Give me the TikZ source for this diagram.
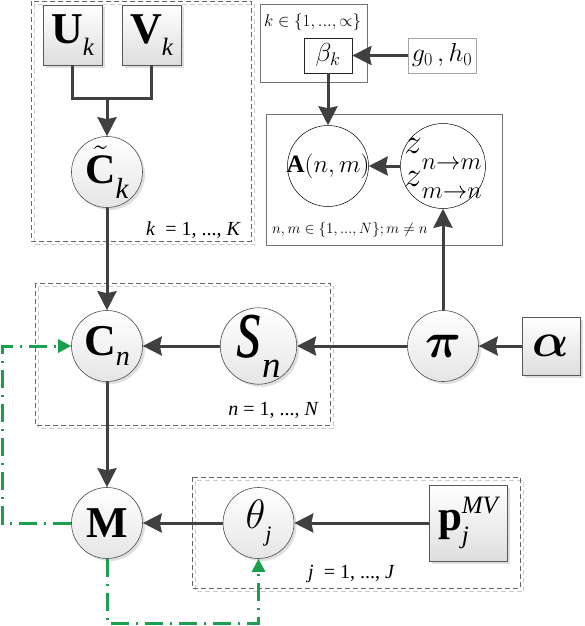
\RequirePackage{fix-cm}
\documentclass[tikz,border=0pt]{standalone}
\usepackage{amsmath,bm}
\usepackage{graphicx}
\usepackage{fontspec}
\setmainfont{Liberation Serif}
\usetikzlibrary{arrows.meta,shadows}
\definecolor{arrowgray}{RGB}{64,64,64}
\definecolor{gline}{RGB}{26,160,76}
\newcommand\myfs[1]{\fontsize{#1}{#1}\selectfont}
\newcommand\lowsub[3]{\raisebox{#1}{\myfs{#2}\itshape #3}}
\begin{document}
\begin{tikzpicture}[x=1pt,y=-1pt,
  arr/.style={draw=arrowgray,line width=3pt,-{Stealth[length=19pt,width=19pt,inset=2pt]}},
  ln/.style={draw=arrowgray,line width=3pt},
  gl/.style={draw=gline,line width=3pt,dash pattern=on 18pt off 7pt on 2pt off 7pt,-{Triangle[length=13pt,width=13pt]}},
  ball/.style={circle,draw=black!70,line width=0.6pt,inner sep=0pt,minimum size=71pt,top color=white,bottom color=black!10,
    drop shadow={shadow xshift=2.5pt,shadow yshift=-2.5pt,opacity=0.25,fill=black!50}},
  obs/.style={rectangle,draw=black!65,line width=0.8pt,inner sep=0pt,top color=white,bottom color=black!13,
    drop shadow={shadow xshift=2.5pt,shadow yshift=-2.5pt,opacity=0.25,fill=black!50}},
  plain/.style={circle,draw=black,line width=0.5pt,fill=white,inner sep=0pt},
  hyper/.style={rectangle,line width=0.8pt,fill=white,inner sep=0pt},
  dplate/.style={draw=black!60,line width=0.8pt,dash pattern=on 5pt off 3pt},
  dshadow/.style={draw=black!20,line width=0.8pt,dash pattern=on 5pt off 3pt},
  splate/.style={draw=black!55,line width=0.8pt},
  lab/.style={inner sep=0pt,font=\myfs{20}},
  mlab/.style={inner sep=0pt}
]
\useasboundingbox (0,0) rectangle (585,626);
\fill[white] (0,0) rectangle (585,626);

% plates
\draw[dshadow] (34.5,4.5) rectangle (254.5,244.5);
\draw[dplate] (31,1) rectangle (251,241);
\draw[splate] (260,4) rectangle (367,82);
\draw[splate] (266,114) rectangle (502,245);
\draw[dshadow] (38.5,286.5) rectangle (333.5,428.5);
\draw[dplate] (35,283) rectangle (330,425);
\draw[dshadow] (195.5,480.5) rectangle (523.5,591.5);
\draw[dplate] (192,477) rectangle (520,588);

% plate labels
\node[lab,anchor=base east] (labK) at (241,235) {\textit{k}\ \ = 1, ..., \textit{K}};
\node[lab,anchor=base east] (labN) at (319,415) {\textit{n}\ = 1, ..., \textit{N}};
\node[lab,anchor=base west] (labJ) at (308,578) {\textit{j}\ \ = 1, ..., \textit{J}};
\node[mlab,anchor=base west,font=\myfs{17}] (labB) at (264,27) {$k\in\{1,...,\propto\}$};
\node[mlab,anchor=base west,font=\myfs{15}] (labA) at (272,233) {$n,m\in\{1,...,N\};m\neq n$};

% nodes
\node[obs,minimum width=59pt,minimum height=60pt] (U) at (72.5,35) {{\myfs{44}\bfseries U}\lowsub{-12pt}{25}{k}};
\node[obs,minimum width=59pt,minimum height=60pt] (V) at (151.5,35) {{\myfs{44}\bfseries V}\lowsub{-12pt}{25}{k}};
\node[ball] (Ck) at (107,172) {{\myfs{42}$\tilde{\text{\bfseries C}}$}\lowsub{-15pt}{29}{k}};
\node[ball] (Cn) at (107,346) {{\myfs{44}\bfseries C}\lowsub{-10pt}{28}{n}};
\node[ball] (sn) at (258.5,346) {\scalebox{1.1}[1.5]{\myfs{60}\itshape s}\lowsub{-20pt}{37}{n}};
\node[ball] (PI) at (443,346) {{\myfs{50}$\boldsymbol{\pi}$}};
\node[obs,minimum width=58pt,minimum height=58pt] (AL) at (551,346) {{\myfs{48}$\boldsymbol{\alpha}$}};
\node[ball] (M) at (107,523) {{\myfs{44}\bfseries M}};
\node[ball] (TH) at (258.5,523) {{\myfs{41}$\theta$}\lowsub{-13pt}{22}{j}};
\node[obs,minimum width=78pt,minimum height=76pt] (P) at (468,523) {{\myfs{43}\bfseries p}\rlap{\lowsub{-13pt}{25}{j}}\lowsub{17pt}{25}{MV}};

\node[hyper,draw=black!85,minimum width=48pt,minimum height=35pt] (B) at (328,55.5) {{\myfs{26}$\beta_k$}};
\node[hyper,draw=black!35,minimum width=68pt,minimum height=35pt] (G) at (442,55.5) {{\myfs{26}$g_0\,,h_0$}};
\node[plain,minimum size=81pt] (A) at (328,166) {};
\node[inner sep=0pt] (Atxt) at (A) {\myfs{25}$\mathbf{A}(n,m)$};
\node[plain,minimum size=85pt] (Z) at (443,166) {};
\node[inner sep=0pt,align=left,font=\fontsize{35}{33}\selectfont] (Ztxt) at (443,168)
  {$z$\raisebox{-16pt}{$\scriptstyle n\to m$}\\$z$\raisebox{-12pt}{$\scriptstyle m\to n$}};

% connectors
\coordinate (jn) at (107,98);
\draw[ln] (U.south) |- (jn);
\draw[ln] (V.south) |- (jn);
\draw[arr] (jn) -- (Ck.north);
\draw[arr] (Ck) -- (Cn);
\draw[arr] (sn) -- (Cn);
\draw[arr] (PI) -- (sn);
\draw[arr] (AL) -- (PI);
\draw[arr] (PI) -- (Z);
\draw[arr] (Z) -- (A);
\draw[arr] (B) -- (A);
\draw[arr] (G) -- (B);
\draw[arr] (Cn) -- (M);
\draw[arr] (TH) -- (M);
\draw[arr] (P) -- (TH);

% green feedback
\coordinate (gx) at (2.5,430);
\coordinate (gy) at (180,623);
\draw[gl] (M.west) -| (gx) |- (Cn.west);
\draw[gl] (M.south) |- (gy) -| (TH.south);
\end{tikzpicture}
\end{document}
